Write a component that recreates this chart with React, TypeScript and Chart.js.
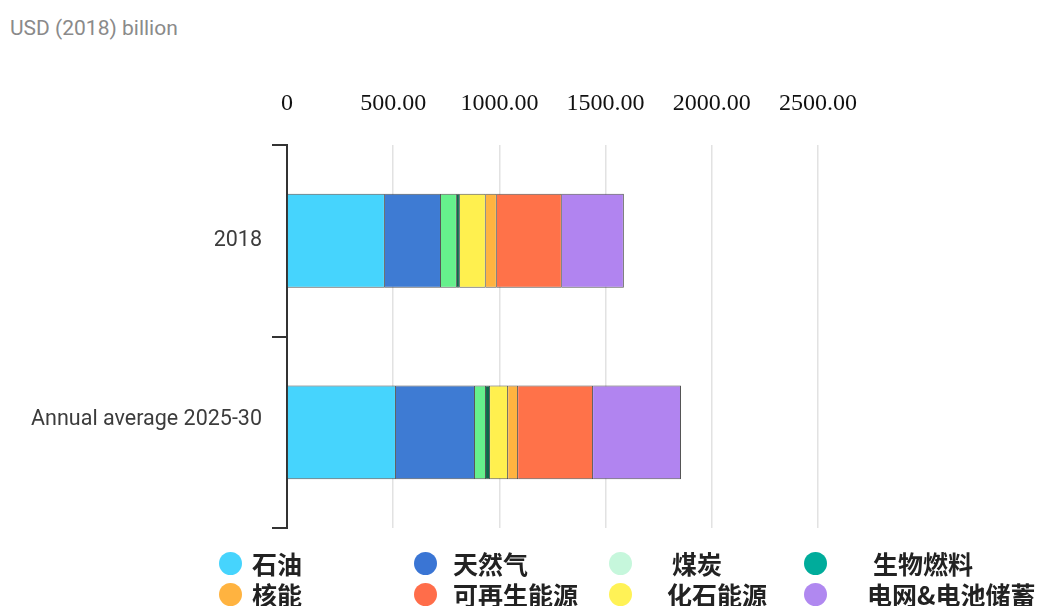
import React, { useEffect, useRef } from "react";
import { Chart, registerables } from "chart.js";

Chart.register(...registerables);

const categories = ["2018", "Annual average 2025-30"];
const seriesNames = ["石油", "天然气", "煤炭", "生物燃料", "化石能源", "核能", "可再生能源", "电网&电池储蓄"];
const oil = [461, 513];
const gas = [264, 372];
const coal = [75, 52];
const biofuel = [14, 19];
const fossil = [122, 85];
const nuclear = [52, 47];
const renewables = [306, 353];
const gridStorage = [292, 414];
const xTicks = [0, 500, 1000, 1500, 2000, 2500];

const barColors = ["#46d4fd", "#3e7bd3", "#66f08c", "#0a6b4a", "#fff04f", "#ffb340", "#ff7249", "#b184f0"];

const legendNames = ["石油", "天然气", "煤炭", "生物燃料", "核能", "可再生能源", "化石能源", "电网&电池储蓄"];
const legendColors = ["#46d4fd", "#3a75d4", "#c6f7dc", "#00ac9b", "#ffb340", "#ff6d4a", "#fff256", "#b088f0"];
const legendX = [230, 425, 620, 815];
const legendTextX = [252, 453, 672, 873, 252, 453, 667, 867];

export default function App() {
  const canvasRef = useRef<HTMLCanvasElement>(null);

  useEffect(() => {
    document.body.style.margin = "0";
    const values = [oil, gas, coal, biofuel, fossil, nuclear, renewables, gridStorage];
    const datasets = values.map((v, i) => ({
      label: seriesNames[i],
      data: v,
      backgroundColor: barColors[i],
      borderColor: "rgba(55,55,55,0.85)",
      borderWidth: 1,
      categoryPercentage: 1,
      barPercentage: 0.49,
    }));
    const chart = new Chart(canvasRef.current!, {
      type: "bar",
      data: { labels: categories, datasets },
      options: {
        indexAxis: "y",
        responsive: false,
        maintainAspectRatio: false,
        animation: false,
        layout: { padding: { left: 0, right: 222, top: 0, bottom: 13 } },
        plugins: { legend: { display: false }, tooltip: { enabled: false } },
        scales: {
          x: {
            position: "top",
            stacked: true,
            min: 0,
            max: 2500,
            afterBuildTicks: (s: any) => {
              s.ticks = xTicks.map((v) => ({ value: v }));
            },
            ticks: {
              callback: (v: any) => (Number(v) === 0 ? "0" : Number(v).toFixed(2)),
              font: { family: "'Liberation Serif', serif", size: 24 },
              color: "#111",
              padding: 27,
              maxRotation: 0,
            },
            grid: { color: "#e2e2e2", lineWidth: 1.5, drawTicks: false },
            border: { display: false },
            afterFit: (s: any) => {
              s.height = 145;
            },
          } as any,
          y: {
            stacked: true,
            grid: { offset: true, drawOnChartArea: false, drawTicks: true, tickLength: 15, color: "#333", lineWidth: 2 },
            border: { display: true, color: "#333", width: 2 },
            ticks: {
              font: { family: "Roboto, sans-serif", size: 21.5 },
              color: "#3c3c3c",
              padding: 10,
              callback: (_v: any, i: number) => (i === 1 ? [categories[i], ""] : categories[i]),
            },
            afterFit: (s: any) => {
              s.width = 287;
            },
          } as any,
        },
      },
    });
    return () => chart.destroy();
  }, []);

  return (
    <div style={{ position: "relative", width: 1040, height: 606, overflow: "hidden", background: "#fff" }}>
      <div
        style={{
          position: "absolute",
          left: 10,
          top: 16,
          font: "21px Roboto, sans-serif",
          color: "#8a8a8a",
          whiteSpace: "nowrap",
        }}
      >
        USD (2018) billion
      </div>
      <canvas ref={canvasRef} width={1040} height={551} style={{ position: "absolute", left: 0, top: 0, width: 1040, height: 551 }} />
      {legendNames.map((name, i) => {
        const col = i % 4;
        const row = Math.floor(i / 4);
        const cy = row === 0 ? 563 : 594;
        return (
          <React.Fragment key={name}>
            <div
              style={{
                position: "absolute",
                left: legendX[col] - 11.5,
                top: cy - 11.5,
                width: 23,
                height: 23,
                borderRadius: "50%",
                background: legendColors[i],
              }}
            />
            <div
              style={{
                position: "absolute",
                left: legendTextX[i],
                top: cy - 18,
                height: 32,
                lineHeight: "32px",
                font: "bold 25px 'Noto Sans CJK SC', sans-serif",
                color: "#222",
                whiteSpace: "nowrap",
              }}
            >
              {name}
            </div>
          </React.Fragment>
        );
      })}
    </div>
  );
}
